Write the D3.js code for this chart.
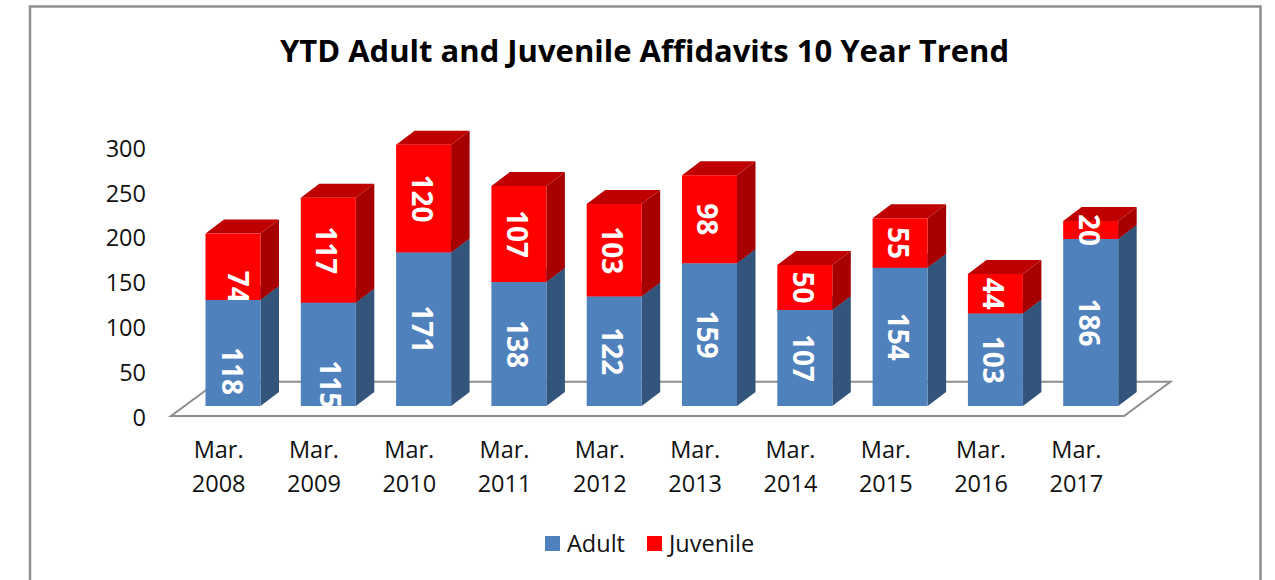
<!DOCTYPE html>
<html>
<head>
<meta charset="utf-8">
<script src="https://cdn.jsdelivr.net/npm/d3@7"></script>
<style>
  html, body { margin: 0; padding: 0; background: #fff; }
  svg { display: block; font-family: "Open Sans", sans-serif; }
  .axis { font-family: "Open Sans", sans-serif; }
  .axis text { fill: #111; font-size: 23.5px; }
  .seg-label { fill: #fff; font-size: 28px; font-weight: 700; text-anchor: middle; }
</style>
</head>
<body>
<div id="chart"></div>
<script>
const chartTitle = 'YTD Adult and Juvenile Affidavits 10 Year Trend';
const months = ['Mar. 2008', 'Mar. 2009', 'Mar. 2010', 'Mar. 2011', 'Mar. 2012',
                'Mar. 2013', 'Mar. 2014', 'Mar. 2015', 'Mar. 2016', 'Mar. 2017'];
const adult = [118, 115, 171, 138, 122, 159, 107, 154, 103, 186];
const juvenile = [74, 117, 120, 107, 103, 98, 50, 55, 44, 20];
const yTicks = [0, 50, 100, 150, 200, 250, 300];

// the source chart pushes these few labels off the bar centre, and cuts them at the bar end
const adultLabelDrop = [18, 30, 0, 0, 0, 0, 0, 0, 0, 0];
const juvenileLabelDrop = [20, 0, 0, 0, 0, 0, 0, 0, 0, 0];
const adultLabelSide = [1, 3.5, 0, 0, 0, 0, 0, 0, 0, 0];
const juvenileLabelSide = [7, 0, 0, 0, 0, 0, 0, 0, 0, 0];

const width = 1275;
const height = 580;

// 3d look: offsets of the bar depth and of the floor
const barDepth = {x: 18.5, y: -14};
const floorDepth = {x: 46.5, y: -34.3};
const floorDrop = 10;
const barWidth = 55;
const barInset = 34.5;

const svg = d3.select('#chart')
              .append('svg')
              .attr('width', width)
              .attr('height', height);

// outer frame, runs off the bottom of the picture
svg.append('rect')
   .attr('x', 30)
   .attr('y', 6.5)
   .attr('width', 1230.5)
   .attr('height', 640)
   .attr('fill', '#fff')
   .attr('stroke', '#8e8e8e')
   .attr('stroke-width', 2.5);

svg.append('text')
   .attr('x', 644.5)
   .attr('y', 62)
   .attr('text-anchor', 'middle')
   .attr('font-size', 31)
   .attr('font-weight', 700)
   .attr('fill', '#000')
   .text(chartTitle);

const xScale = d3.scaleBand()
                 .domain(months)
                 .range([171, 1124]);

const yScale = d3.scaleLinear()
                 .domain([0, 300])
                 .range([406, 136.6]);

const floorY = yScale(0) + floorDrop;

// floor
const floor = [
  [xScale.range()[0], floorY],
  [xScale.range()[1], floorY],
  [xScale.range()[1] + floorDepth.x, floorY + floorDepth.y],
  [xScale.range()[0] + floorDepth.x, floorY + floorDepth.y]
];
svg.append('polygon')
   .attr('points', floor.join(' '))
   .attr('fill', '#fff')
   .attr('stroke', '#8e8e8e')
   .attr('stroke-width', 2);

// y axis
const yAxis = svg.append('g')
                 .attr('class', 'axis')
                 .attr('transform', `translate(146, ${floorDrop + 2})`)
                 .call(d3.axisLeft(yScale).tickValues(yTicks).tickSize(0).tickPadding(0));
yAxis.select('.domain').remove();

// x axis, every label on two lines
const xAxis = svg.append('g')
                 .attr('class', 'axis')
                 .attr('transform', `translate(0, ${floorY})`)
                 .call(d3.axisBottom(xScale).tickSize(0));
xAxis.select('.domain').remove();
xAxis.selectAll('text').each(function(d) {
  const parts = d.split(' ');
  const label = d3.select(this).text(null).attr('y', 0).attr('dy', null);
  label.append('tspan').attr('x', 0).attr('y', 42).text(parts[0]);
  label.append('tspan').attr('x', 0).attr('y', 76).text(parts[1]);
});

const series = [
  {name: 'Adult', values: adult, drops: adultLabelDrop, sides: adultLabelSide,
   front: '#4f81bd', side: '#33547b', top: '#3d6591'},
  {name: 'Juvenile', values: juvenile, drops: juvenileLabelDrop, sides: juvenileLabelSide,
   front: '#ff0000', side: '#a60000', top: '#bf0000'}
];

const rows = months.map((m, i) => ({month: m, Adult: adult[i], Juvenile: juvenile[i]}));
const stacked = d3.stack().keys(series.map(s => s.name))(rows);

const barLeft = m => xScale(m) + barInset;

function face(points) {
  return points.map(p => p.join(',')).join(' ');
}

const defs = svg.append('defs');

function drawSegment(layer, g, s, j) {
  const m = months[j];
  const x0 = barLeft(m);
  const x1 = x0 + barWidth;
  const yTop = yScale(layer[j][1]);
  const yBottom = yScale(layer[j][0]);

  g.append('polygon')
   .attr('fill', s.side)
   .attr('points', face([[x1, yTop], [x1 + barDepth.x, yTop + barDepth.y],
                         [x1 + barDepth.x, yBottom + barDepth.y], [x1, yBottom]]));
  g.append('polygon')
   .attr('fill', s.top)
   .attr('points', face([[x0, yTop], [x1, yTop],
                         [x1 + barDepth.x, yTop + barDepth.y], [x0 + barDepth.x, yTop + barDepth.y]]));
  g.append('rect')
   .attr('x', x0)
   .attr('y', yTop)
   .attr('width', barWidth)
   .attr('height', yBottom - yTop)
   .attr('fill', s.front);
}

function drawLabel(layer, g, s, j) {
  const m = months[j];
  const x0 = barLeft(m);
  const yTop = yScale(layer[j][1]);
  const yBottom = yScale(layer[j][0]);
  const drop = s.drops[j];
  const cx = x0 + barWidth / 2 - 2 + s.sides[j];
  const cy = (yTop + yBottom) / 2 + drop;

  const label = g.append('text')
                 .attr('class', 'seg-label')
                 .attr('dy', '0.36em')
                 .attr('transform', `translate(${cx}, ${cy}) rotate(90)`)
                 .text(s.values[j]);

  if (drop !== 0) {
    const id = `clip-${s.name}-${j}`;
    defs.append('clipPath')
        .attr('id', id)
        .append('rect')
        .attr('x', x0)
        .attr('y', yTop)
        .attr('width', barWidth)
        .attr('height', yBottom - yTop);
    g.append('g').attr('clip-path', `url(#${id})`).node().appendChild(label.node());
  }
}

// bars, then labels on top of each column
months.forEach((m, j) => {
  const g = svg.append('g').attr('class', 'column');
  stacked.forEach((layer, i) => drawSegment(layer, g, series[i], j));
  stacked.forEach((layer, i) => drawLabel(layer, g, series[i], j));
});

// legend
const legendItems = [
  {name: 'Adult', x: 545},
  {name: 'Juvenile', x: 647}
];
const legend = svg.selectAll('.legend')
                  .data(legendItems)
                  .join('g')
                  .attr('class', 'legend')
                  .attr('transform', d => `translate(${d.x}, 536)`);
legend.append('rect')
      .attr('width', 15)
      .attr('height', 15)
      .attr('fill', d => series.find(s => s.name === d.name).front);
legend.append('text')
      .attr('x', 22)
      .attr('y', 16)
      .attr('font-size', 23.5)
      .attr('fill', '#111')
      .text(d => d.name);
</script>
</body>
</html>
